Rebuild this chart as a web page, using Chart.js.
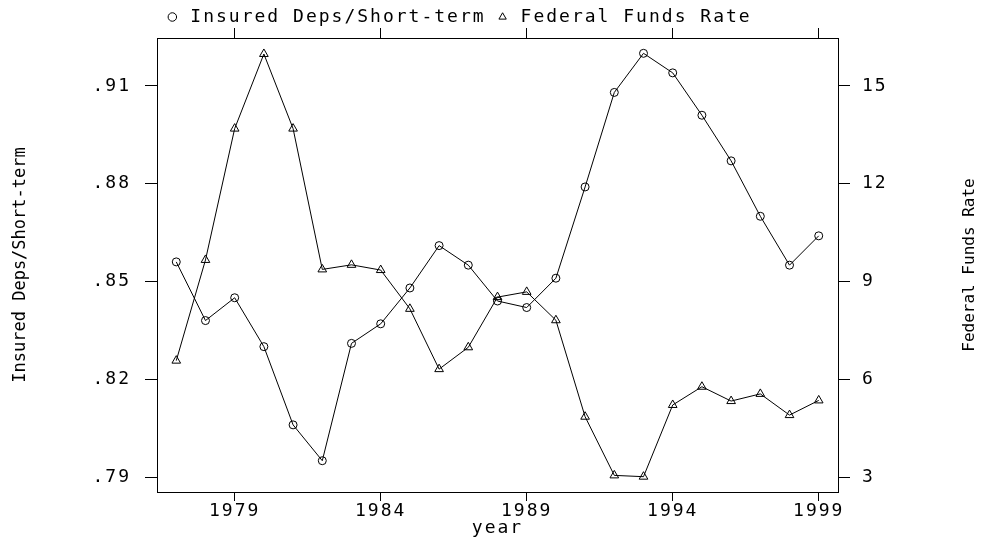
<!DOCTYPE html>
<html>
<head>
<meta charset="utf-8">
<script src="https://cdn.jsdelivr.net/npm/chart.js@4.4.1/dist/chart.umd.min.js"></script>
<style>
  html, body { margin: 0; padding: 0; background: #fff; }
  #wrap { width: 985px; height: 542px; }
</style>
</head>
<body>
<div id="wrap"><canvas id="chart"></canvas></div>
<script>
var years = [1977, 1978, 1979, 1980, 1981, 1982, 1983, 1984, 1985, 1986, 1987, 1988,
  1989, 1990, 1991, 1992, 1993, 1994, 1995, 1996, 1997, 1998, 1999];
var insured = [.856, .838, .845, .830, .806, .795, .831, .837, .848, .861, .855, .844,
  .842, .851, .879, .908, .920, .914, .901, .887, .870, .855, .864];
var fedfunds = [6.57, 9.66, 13.69, 15.98, 13.69, 9.37, 9.51, 9.35, 8.16, 6.31, 6.98, 8.52,
  8.68, 7.81, 4.85, 3.05, 3.01, 5.21, 5.77, 5.33, 5.55, 4.90, 5.35];
var xTicks = [1979, 1984, 1989, 1994, 1999];
var leftTicks = [.79, .82, .85, .88, .91];
var rightTicks = [3, 6, 9, 12, 15];
var leftTitle = 'Insured Deps/Short-term';
var rightTitle = 'Federal Funds Rate';

var FONT = 'DejaVu Sans Mono';
var tickFont = { family: FONT, size: 18 };
var leftFont = { family: FONT, size: 17 };
var rightFont = { family: FONT, size: 16 };

function points(ys) {
  return years.map(function (yr, i) { return { x: yr, y: ys[i] }; });
}

function fixTicks(list) {
  return function (axis) {
    axis.ticks = list.map(function (v) { return { value: v }; });
  };
}

// wide glyphs like the original plot, but not for the side titles
var spacing = {
  id: 'spacing',
  beforeLayout: function (c) { c.ctx.letterSpacing = '2px'; },
  beforeDraw: function (c) { c.ctx.letterSpacing = '2px'; },
  afterLayout: function (c) {
    c.legend.left -= 35;
    c.legend.right -= 35;
    var s = c.scales.y;
    if (!s._plainTitle) {
      var f = s.drawTitle;
      s.drawTitle = function () {
        c.ctx.save();
        c.ctx.letterSpacing = '0px';
        f.apply(this, arguments);
        c.ctx.restore();
      };
      s._plainTitle = true;
    }
  },
  // right title reads bottom to top, as on the left
  afterDraw: function (c) {
    var s = c.scales.y1;
    var ctx = c.ctx;
    ctx.save();
    ctx.letterSpacing = '0px';
    ctx.font = rightFont.size + 'px ' + FONT;
    ctx.fillStyle = '#000';
    ctx.textAlign = 'center';
    ctx.textBaseline = 'middle';
    ctx.translate(s.right - 15, (s.top + s.bottom) / 2);
    ctx.rotate(-Math.PI / 2);
    ctx.fillText(rightTitle, 0, 0);
    ctx.restore();
  }
};

Chart.defaults.color = '#000';
Chart.defaults.font.family = FONT;

chart = new Chart(document.getElementById('chart'), {
  type: 'line',
  data: {
    datasets: [{
      label: leftTitle,
      data: points(insured),
      yAxisID: 'y',
      borderColor: '#000',
      borderWidth: 1,
      backgroundColor: '#fff',
      pointStyle: 'circle',
      pointRadius: 4,
      pointBorderWidth: 1,
      pointBorderColor: '#000',
      pointBackgroundColor: 'rgba(0,0,0,0)',
      tension: 0
    }, {
      label: rightTitle,
      data: points(fedfunds),
      yAxisID: 'y1',
      borderColor: '#000',
      borderWidth: 1,
      backgroundColor: '#fff',
      pointStyle: 'triangle',
      pointRadius: 5,
      pointBorderWidth: 1,
      pointBorderColor: '#000',
      pointBackgroundColor: 'rgba(0,0,0,0)',
      tension: 0
    }]
  },
  options: {
    responsive: true,
    maintainAspectRatio: false,
    animation: false,
    layout: { padding: 0 },
    plugins: {
      tooltip: { enabled: false },
      legend: {
        position: 'top',
        labels: {
          usePointStyle: true,
          boxHeight: 6,
          padding: 8,
          color: '#000',
          font: tickFont
        }
      }
    },
    scales: {
      x: {
        type: 'linear',
        position: 'bottom',
        min: 1976.34,
        max: 1999.66,
        afterBuildTicks: fixTicks(xTicks),
        afterFit: function (s) { s.height = 50; },
        border: { display: true, color: '#000', width: 1 },
        grid: { drawOnChartArea: false, drawTicks: true, tickLength: 9, color: '#000' },
        ticks: { padding: 0, font: tickFont, maxRotation: 0,
          callback: function (v) { return String(v); } },
        title: { display: true, text: 'year', font: tickFont, padding: { top: 0, bottom: 3 } }
      },
      x2: {
        type: 'linear',
        position: 'top',
        min: 1976.34,
        max: 1999.66,
        afterBuildTicks: fixTicks(xTicks),
        afterFit: function (s) { s.height = 38 - s.chart.legend.height; },
        border: { display: true, color: '#000', width: 1 },
        grid: { drawOnChartArea: false, drawTicks: true, tickLength: 10, color: '#000' },
        ticks: { display: false }
      },
      y: {
        type: 'linear',
        position: 'left',
        min: .7854,
        max: .9247,
        afterBuildTicks: fixTicks(leftTicks),
        afterFit: function (s) { s.width = 157; },
        border: { display: true, color: '#000', width: 1 },
        grid: { drawOnChartArea: false, drawTicks: true, tickLength: 12, color: '#000' },
        ticks: { padding: 14, font: tickFont,
          callback: function (v) { return v.toFixed(2).replace(/^0/, ''); } },
        title: { display: true, text: leftTitle, font: leftFont, padding: { top: 10, bottom: 0 } }
      },
      y1: {
        type: 'linear',
        position: 'right',
        min: 2.54,
        max: 16.47,
        afterBuildTicks: fixTicks(rightTicks),
        afterFit: function (s) { s.width = 147; },
        border: { display: true, color: '#000', width: 1 },
        grid: { drawOnChartArea: false, drawTicks: true, tickLength: 12, color: '#000' },
        ticks: { padding: 12, font: tickFont }
      }
    }
  },
  plugins: [spacing]
});
</script>
</body>
</html>
